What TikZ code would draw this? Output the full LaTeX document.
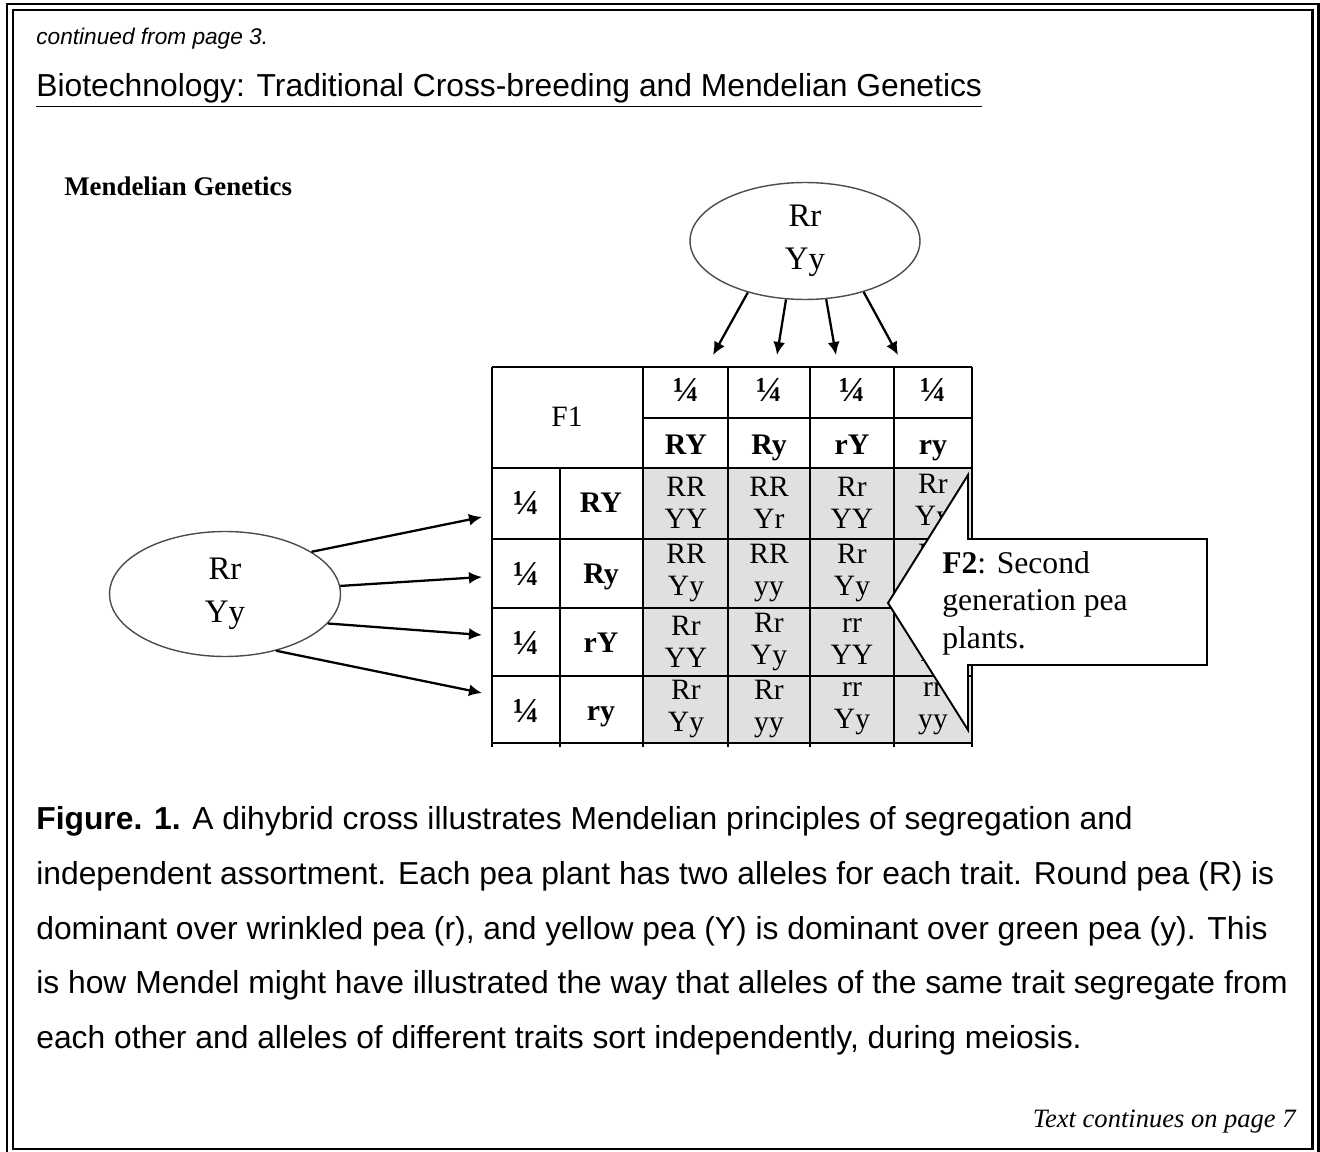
\documentclass[tikz,border=0pt]{standalone}
\usepackage{fontspec}
\setmainfont{Liberation Serif}
\setsansfont{Liberation Sans}
\usepackage{xcolor}
\usepackage{tikz}
\usetikzlibrary{shapes,arrows,positioning,calc,arrows.meta}
\definecolor{cellgray}{RGB}{224,224,224}

\begin{document}
\begin{tikzpicture}[x=0.02cm,y=-0.02cm,
    txt/.style={inner sep=0pt},
    parent/.style={draw=black!70,ellipse,line width=0.8pt,inner sep=0pt,align=center,
      font=\fontsize{18.7}{24.5}\selectfont},
    gam/.style={line width=1.3pt,-{Latex[length=2.6mm,width=2.4mm]}},
    grid/.style={line width=1.4pt},
    allele/.style={inner sep=0pt,align=center,font=\fontsize{16.8}{18.2}\selectfont},
    hdr/.style={inner sep=0pt,anchor=base,font=\bfseries\fontsize{17}{18.2}\selectfont},
    quarter/.style={hdr,font=\bfseries\fontsize{20}{20}\selectfont}]
    \useasboundingbox (0,0) rectangle (1320,1152);
    % page frame
    \draw[line width=1.7pt] (7,4) rectangle (1318,1156);
    \draw[line width=1.7pt] (13,10) rectangle (1312,1149);
    % heading
    \node[txt,anchor=base west,font=\sffamily\itshape\fontsize{12.9}{15}\selectfont] (from) at (36,45) {continued from page 3.};
    \node[txt,anchor=base west,font=\sffamily\fontsize{18.1}{21}\selectfont] (title) at (36,97) {\underline{Biotechnology: Traditional Cross-breeding and Mendelian Genetics}};
    \node[txt,anchor=base west,font=\bfseries\fontsize{15.3}{18}\selectfont] (mg) at (64,196) {Mendelian Genetics};
    % parents
    \node[parent,minimum width=4.6cm,minimum height=2.34cm] (topP) at (805,241) {Rr\\Yy};
    \node[parent,minimum width=4.62cm,minimum height=2.5cm] (leftP) at (225,594) {Rr\\Yy};
    \coordinate (t1) at (713,355); \coordinate (t2) at (777,355);
    \coordinate (t3) at (836,355); \coordinate (t4) at (898,355);
    \coordinate (l1) at (482,517); \coordinate (l2) at (482,577);
    \coordinate (l3) at (482,635); \coordinate (l4) at (482,693);
    \foreach \a/\t in {222/t1,252/t2,290/t3,319/t4}
        \draw[gam] (topP.\a) -- (\t);
    \foreach \a/\t in {26/l1,4/l2,344/l3,312/l4}
        \draw[gam] (leftP.\a) -- (\t);
    % F1 table
    \fill[cellgray] (643,468) rectangle (972,743);
    \draw[grid] (643,418) -- (972,418);
    \foreach \y in {367,468,539,608,676,743}
        \draw[grid] (492,\y) -- (972,\y);
    \foreach \x in {492,643,728,810,894,972}
        \draw[grid] (\x,367) -- (\x,747);
    \draw[grid] (560,468) -- (560,747);
    \node[txt,font=\fontsize{16.8}{18}\selectfont] (f1) at (567,417) {F1};
    \foreach \x/\g [count=\i] in {686/RY,769/Ry,852/rY,933/ry}{
        \node[quarter] (q\i) at (\x,402) {¼};
        \node[hdr] (h\i) at (\x,455) {\g};
    }
    \foreach \y/\g [count=\i] in {513/RY,583/Ry,652/rY,720/ry}{
        \node[quarter] (p\i) at (526,\y+2) {¼};
        \node[hdr] (v\i) at (601,\y) {\g};
    }
    % F2 offspring
    \foreach \x/\y/\a/\b [count=\i] in {686/503/RR/YY,769/503/RR/Yr,852/503/Rr/YY,933/503/Rr/Yy,
        686/573/RR/Yy,769/573/RR/yy,852/573/Rr/Yy,933/573/Rr/yy,
        686/642/Rr/YY,769/642/Rr/Yy,852/642/rr/YY,933/642/rr/Yy,
        686/709/Rr/Yy,769/709/Rr/yy,852/709/rr/Yy,933/709/rr/yy}
        \node[allele] (c\i) at (\x,\y) {\a\\\b};
    % callout
    \draw[fill=white,line width=1.1pt,line join=miter] (968,475) -- (968,539) -- (1207,539) -- (1207,665)
        -- (968,665) -- (968,730) -- (888,603) -- cycle;
    \node[txt,anchor=north west,align=left,font=\fontsize{18}{21.3}\selectfont] (f2) at (942,551)
        {\textbf{F2}: Second\\generation pea\\plants.};
    % caption
    \node[txt,anchor=north west,align=left,font=\sffamily\fontsize{18.1}{31.2}\selectfont] (cap) at (36,806)
        {\textbf{Figure. 1.} A dihybrid cross illustrates Mendelian principles of segregation and\\
        independent assortment. Each pea plant has two alleles for each trait. Round pea (R) is\\
        dominant over wrinkled pea (r), and yellow pea (Y) is dominant over green pea (y). This\\
        is how Mendel might have illustrated the way that alleles of the same trait segregate from\\
        each other and alleles of different traits sort independently, during meiosis.};
    \node[txt,anchor=base east,font=\itshape\fontsize{15.1}{18}\selectfont] (next) at (1296,1127) {Text continues on page 7};
\end{tikzpicture}
\end{document}
